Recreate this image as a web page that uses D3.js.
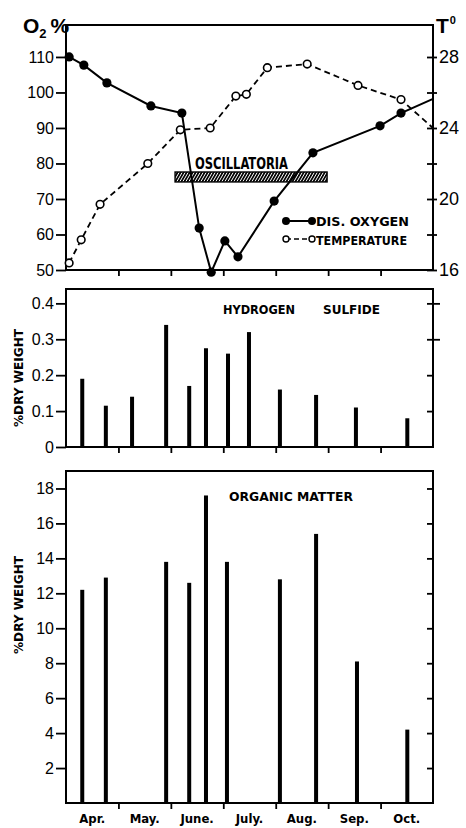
<!DOCTYPE html>
<meta charset="utf-8">
<style>
body { margin: 0; background: #fff; }
.axis path { display: none; }
.axis line { stroke: #000; stroke-width: 1.8; }
.axis text { font-family: "Liberation Sans", Arial, sans-serif; font-size: 16px; fill: #000; }
.lbl { font-family: "Liberation Sans Narrow", "DejaVu Sans Condensed", sans-serif; font-weight: bold; fill: #000; }
.frame { fill: none; stroke: #000; stroke-width: 2; }
</style>
<body>
<script src="https://d3js.org/d3.v7.min.js"></script>
<script>

// time axis is in months since 1 April (0..7 = Apr..Oct)
var months = ["Apr.", "May.", "June.", "July.", "Aug.", "Sep.", "Oct."];
var monthBounds = [1, 2, 3, 4, 5, 6];

// dissolved oxygen, % saturation (last sample runs out past the frame, no marker)
var oxygenTime  = [0.06, 0.34, 0.78, 1.62, 2.21, 2.54, 2.77, 3.03, 3.28, 3.97, 4.71, 5.99, 6.39, 7.0];
var oxygenValue = [110, 107.7, 102.7, 96.2, 94.2, 61.8, 49.4, 58.2, 53.7, 69.4, 83, 90.6, 94.2, 98.2];

// temperature, deg C
var tempTime  = [0.06, 0.29, 0.65, 1.56, 2.18, 2.75, 3.24, 3.44, 3.84, 4.60, 5.57, 6.39, 7.0];
var tempValue = [16.4, 17.7, 19.7, 22.0, 23.9, 24.0, 25.8, 25.9, 27.4, 27.6, 26.4, 25.6, 24.0];

// oscillatoria bloom period (months) and the O2 band it is drawn over
var oscPeriod = [2.08, 4.98];
var oscBand = [74.8, 77.6];

// hydrogen sulfide, % dry weight
var sulfideTime  = [0.31, 0.76, 1.26, 1.91, 2.35, 2.67, 3.09, 3.49, 4.08, 4.77, 5.53, 6.51];
var sulfideValue = [0.19, 0.115, 0.14, 0.34, 0.17, 0.275, 0.26, 0.32, 0.16, 0.145, 0.11, 0.08];

// organic matter, % dry weight
var organicTime  = [0.31, 0.76, 1.91, 2.35, 2.67, 3.07, 4.08, 4.77, 5.55, 6.51];
var organicValue = [12.2, 12.9, 13.8, 12.6, 17.6, 13.8, 12.8, 15.4, 8.1, 4.2];

var o2Ticks = [50, 60, 70, 80, 90, 100, 110];
var tempTicks = [16, 18, 20, 22, 24, 26, 28];
var sulfideTicks = [0, 0.1, 0.2, 0.3, 0.4];
var organicTicks = [2, 4, 6, 8, 10, 12, 14, 16, 18];

var W = 466, H = 828;
var left = 66, right = 433;

var svg = d3.select("body").append("svg")
  .attr("width", W)
  .attr("height", H);

var x = d3.scaleLinear().domain([0, 7]).range([left, right]);

var yO2 = d3.scaleLinear().domain([50, 119]).range([270, 25]);
var yT = d3.scaleLinear().domain([16, 28]).range([270, 57]);
var yS = d3.scaleLinear().domain([0, 0.44]).range([447, 289]);
var yOM = d3.scaleLinear().domain([0, 19]).range([803, 471]);

// hatch for the oscillatoria band
svg.append("defs").append("pattern")
  .attr("id", "hatch")
  .attr("patternUnits", "userSpaceOnUse")
  .attr("width", 2.6).attr("height", 3)
  .attr("patternTransform", "rotate(30)")
  .append("rect")
    .attr("width", 1.7).attr("height", 3)
    .attr("fill", "#000");

function panel(y, ticks, fmt, rightTicks, rightFmt) {
  var r = y.range();
  svg.append("rect").attr("class", "frame")
    .attr("x", left).attr("y", r[1])
    .attr("width", right - left).attr("height", r[0] - r[1]);

  svg.append("g").attr("class", "axis")
    .attr("transform", "translate(" + left + ",0)")
    .call(d3.axisLeft(y).tickValues(ticks).tickFormat(fmt).tickSize(10).tickPadding(2));

  var ra = svg.append("g").attr("class", "axis right")
    .attr("transform", "translate(" + right + ",0)")
    .call(rightTicks.axis.tickSize(rightTicks.out).tickPadding(2).tickFormat(rightFmt));
  ra.selectAll(".tick line").attr("x1", -6);

  svg.append("g").attr("class", "axis")
    .attr("transform", "translate(0," + r[0] + ")")
    .call(d3.axisBottom(x).tickValues(monthBounds).tickFormat("").tickSize(6));
  return ra;
}

// ---- top: oxygen + temperature ----
panel(yO2, o2Ticks, d3.format("d"),
  { axis: d3.axisRight(yT).tickValues(tempTicks), out: 4 },
  function(d) { return d % 4 === 0 ? d : ""; })
  .selectAll("text").style("font-size", "18px");

var oxy = oxygenTime.map(function(t, i) { return { t: t, v: oxygenValue[i] }; });
var temp = tempTime.map(function(t, i) { return { t: t, v: tempValue[i] }; });

svg.append("rect")
  .attr("x", x(oscPeriod[0]))
  .attr("y", yO2(oscBand[1]))
  .attr("width", x(oscPeriod[1]) - x(oscPeriod[0]))
  .attr("height", yO2(oscBand[0]) - yO2(oscBand[1]))
  .attr("fill", "url(#hatch)")
  .attr("stroke", "#000").attr("stroke-width", 1.4);

svg.append("text").attr("class", "lbl")
  .attr("x", 195).attr("y", 169)
  .attr("textLength", 93).attr("lengthAdjust", "spacingAndGlyphs")
  .style("font-size", "15px")
  .text("OSCILLATORIA");

svg.append("path")
  .datum(temp)
  .attr("fill", "none").attr("stroke", "#000")
  .attr("stroke-width", 1.8).attr("stroke-dasharray", "6,4")
  .attr("d", d3.line().x(function(d) { return x(d.t); }).y(function(d) { return yT(d.v); }));

svg.append("path")
  .datum(oxy)
  .attr("fill", "none").attr("stroke", "#000").attr("stroke-width", 2)
  .attr("d", d3.line().x(function(d) { return x(d.t); }).y(function(d) { return yO2(d.v); }));

svg.selectAll(".tdot")
  .data(temp.slice(0, -1))
  .enter().append("circle")
    .attr("cx", function(d) { return x(d.t); })
    .attr("cy", function(d) { return yT(d.v); })
    .attr("r", 3.8)
    .attr("fill", "#fff").attr("stroke", "#000").attr("stroke-width", 1.6);

svg.selectAll(".odot")
  .data(oxy.slice(0, -1))
  .enter().append("circle")
    .attr("cx", function(d) { return x(d.t); })
    .attr("cy", function(d) { return yO2(d.v); })
    .attr("r", 4.6)
    .attr("fill", "#000");

// legend
var lg = svg.append("g");
lg.append("line").attr("x1", 286).attr("x2", 312).attr("y1", 221).attr("y2", 221)
  .attr("stroke", "#000").attr("stroke-width", 2);
lg.selectAll(".lo").data([286, 312]).enter().append("circle")
  .attr("cx", function(d) { return d; }).attr("cy", 221).attr("r", 4).attr("fill", "#000");
lg.append("line").attr("x1", 286).attr("x2", 312).attr("y1", 239).attr("y2", 239)
  .attr("stroke", "#000").attr("stroke-width", 1.6).attr("stroke-dasharray", "5,3");
lg.selectAll(".lt").data([286, 312]).enter().append("circle")
  .attr("cx", function(d) { return d; }).attr("cy", 239).attr("r", 3)
  .attr("fill", "#fff").attr("stroke", "#000").attr("stroke-width", 1.4);
lg.append("text").attr("class", "lbl")
  .attr("x", 316).attr("y", 226).attr("textLength", 93).attr("lengthAdjust", "spacingAndGlyphs")
  .style("font-size", "13px").text("DIS.  OXYGEN");
lg.append("text").attr("class", "lbl")
  .attr("x", 316).attr("y", 245).attr("textLength", 91).attr("lengthAdjust", "spacingAndGlyphs")
  .style("font-size", "13px").text("TEMPERATURE");

// axis titles
var o2t = svg.append("text").attr("class", "lbl")
  .attr("x", 23).attr("y", 33)
  .style("font-family", "'Liberation Sans', Arial, sans-serif")
  .style("font-size", "21px");
o2t.append("tspan").text("O");
o2t.append("tspan").attr("dy", 5).style("font-size", "13px").text("2");
o2t.append("tspan").attr("dy", -5).attr("dx", 4).text("%");

var tt = svg.append("text").attr("class", "lbl")
  .attr("x", 436).attr("y", 33)
  .style("font-family", "'Liberation Sans', Arial, sans-serif")
  .style("font-size", "21px");
tt.append("tspan").text("T");
tt.append("tspan").attr("dy", -9).attr("dx", 1).style("font-size", "11px").text("0");

// ---- middle: hydrogen sulfide ----
panel(yS, sulfideTicks, function(d) { return d === 0 ? "0" : d3.format(".1f")(d); },
  { axis: d3.axisRight(yS).tickValues(sulfideTicks.slice(1)), out: 0 },
  function() { return ""; })
  .selectAll(".tick line").attr("x2", function(d) { return d >= 0.3 ? 7 : 0; });

svg.selectAll(".hs")
  .data(sulfideTime)
  .enter().append("rect")
    .attr("x", function(d) { return x(d) - 2; })
    .attr("y", function(d, i) { return yS(sulfideValue[i]); })
    .attr("width", 4)
    .attr("height", function(d, i) { return yS(0) - yS(sulfideValue[i]); })
    .attr("fill", "#000");

svg.append("text").attr("class", "lbl")
  .attr("x", 223).attr("y", 314).attr("textLength", 72).attr("lengthAdjust", "spacingAndGlyphs")
  .style("font-size", "12px").text("HYDROGEN");
svg.append("text").attr("class", "lbl")
  .attr("x", 323).attr("y", 314).attr("textLength", 57).attr("lengthAdjust", "spacingAndGlyphs")
  .style("font-size", "12px").text("SULFIDE");

// ---- bottom: organic matter ----
panel(yOM, organicTicks, d3.format("d"),
  { axis: d3.axisRight(yOM).tickValues(organicTicks), out: 0 },
  function() { return ""; });

svg.selectAll(".om")
  .data(organicTime)
  .enter().append("rect")
    .attr("x", function(d) { return x(d) - 2; })
    .attr("y", function(d, i) { return yOM(organicValue[i]); })
    .attr("width", 4)
    .attr("height", function(d, i) { return yOM(0) - yOM(organicValue[i]); })
    .attr("fill", "#000");

svg.append("text").attr("class", "lbl")
  .attr("x", 229).attr("y", 501).attr("textLength", 124).attr("lengthAdjust", "spacingAndGlyphs")
  .style("font-size", "12px").text("ORGANIC  MATTER");

// y titles
[[378, "%DRY WEIGHT"], [605, "%DRY WEIGHT"]].forEach(function(p) {
  svg.append("text").attr("class", "lbl")
    .attr("transform", "translate(23," + p[0] + ") rotate(-90)")
    .attr("text-anchor", "middle")
    .attr("textLength", 98).attr("lengthAdjust", "spacingAndGlyphs")
    .style("font-size", "13px")
    .text(p[1]);
});

// month names
svg.selectAll(".mon")
  .data(months)
  .enter().append("text").attr("class", "lbl")
    .attr("x", function(d, i) { return x(i + 0.5); })
    .attr("y", 823)
    .attr("text-anchor", "middle")
    .style("font-size", "13px")
    .text(function(d) { return d; });

</script>
